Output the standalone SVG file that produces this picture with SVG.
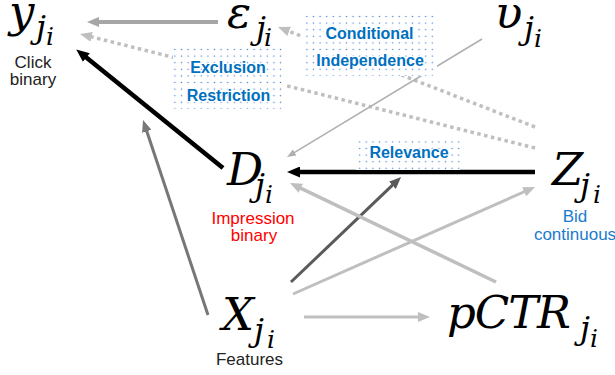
<svg xmlns="http://www.w3.org/2000/svg" width="615" height="375" viewBox="0 0 615 375">
<style>
.m{font-family:"DejaVu Serif",serif;font-style:italic;font-size:45px;fill:#000}
.s1{font-size:32px}
.s2{font-size:25px}
.lab{font-family:"Liberation Sans",Arial,sans-serif;font-size:17px;text-anchor:middle}
.box{font-family:"Liberation Sans",Arial,sans-serif;font-size:16px;font-weight:bold;fill:#0070c0;text-anchor:middle;stroke:#fff;stroke-width:2.5px;paint-order:stroke}
.c{fill:none}
</style>
<defs>
<pattern id="dots" width="6.6" height="6.6" patternUnits="userSpaceOnUse">
<rect width="6.6" height="6.6" fill="#fff"/>
<circle cx="3.3" cy="3.3" r="0.75" fill="#4f86d6"/>
</pattern>
<marker id="aG" markerUnits="userSpaceOnUse" markerWidth="12" markerHeight="10" refX="2" refY="5" orient="auto"><path d="M0,0L12,5L0,10z" fill="#a6a6a6"/></marker>
<marker id="aL" markerUnits="userSpaceOnUse" markerWidth="12" markerHeight="10" refX="2" refY="5" orient="auto"><path d="M0,0L12,5L0,10z" fill="#bfbfbf"/></marker>
<marker id="aB" markerUnits="userSpaceOnUse" markerWidth="13" markerHeight="11" refX="2" refY="5.5" orient="auto"><path d="M0,0L13,5.5L0,11z" fill="#000"/></marker>
<marker id="aM" markerUnits="userSpaceOnUse" markerWidth="12" markerHeight="10" refX="2" refY="5" orient="auto"><path d="M0,0L12,5L0,10z" fill="#777"/></marker>
<marker id="aD" markerUnits="userSpaceOnUse" markerWidth="12" markerHeight="10" refX="2" refY="5" orient="auto"><path d="M0,0L12,5L0,10z" fill="#5a5a5a"/></marker>
<marker id="aT" markerUnits="userSpaceOnUse" markerWidth="9" markerHeight="7" refX="2" refY="3.5" orient="auto"><path d="M0,0L9,3.5L0,7z" fill="#b0b0b0"/></marker>
</defs>
<rect width="615" height="375" fill="#fff"/>
<g id="connectors" class="c">
<line x1="218" y1="22" x2="97" y2="22" stroke="#a6a6a6" stroke-width="4" marker-end="url(#aG)"/>
<line x1="535" y1="127" x2="287.3" y2="30.6" stroke="#bfbfbf" stroke-width="3.5" stroke-dasharray="3.5 3.5" marker-end="url(#aL)"/>
<line x1="535" y1="148" x2="89.7" y2="36.4" stroke="#bfbfbf" stroke-width="3.5" stroke-dasharray="3.5 3.5" marker-end="url(#aL)"/>
<line x1="482" y1="39" x2="293" y2="153.4" stroke="#b0b0b0" stroke-width="1.6" marker-end="url(#aT)"/>
<line x1="535" y1="172" x2="298" y2="172" stroke="#000" stroke-width="4.5" marker-end="url(#aB)"/>
<line x1="223" y1="168" x2="84.8" y2="56.3" stroke="#000" stroke-width="4.5" marker-end="url(#aB)"/>
<line x1="208" y1="315" x2="146.2" y2="129.5" stroke="#777" stroke-width="3" marker-end="url(#aM)"/>
<line x1="291" y1="282" x2="393.8" y2="183.9" stroke="#5a5a5a" stroke-width="3" marker-end="url(#aD)"/>
<line x1="293" y1="294" x2="525.9" y2="191" stroke="#bfbfbf" stroke-width="3" marker-end="url(#aL)"/>
<line x1="496" y1="282" x2="299" y2="187.3" stroke="#bfbfbf" stroke-width="3.5" marker-end="url(#aL)"/>
<line x1="304" y1="317" x2="420" y2="317" stroke="#bfbfbf" stroke-width="3" marker-end="url(#aL)"/>
</g>
<g id="exclusion-restriction">
<rect x="173" y="47" width="112" height="62" fill="url(#dots)"/>
<text class="box" x="228" y="73">Exclusion</text>
<text class="box" x="228.5" y="100.5">Restriction</text>
</g>
<g id="conditional-independence">
<rect x="302" y="13" width="135" height="63" fill="url(#dots)"/>
<text class="box" x="369.5" y="39">Conditional</text>
<text class="box" x="370" y="66">Independence</text>
</g>
<g id="relevance">
<rect x="356" y="141" width="104" height="29" fill="url(#dots)"/>
<text class="box" x="409" y="158">Relevance</text>
</g>
<g id="node-y">
<text class="m"><tspan x="9" y="27">y</tspan><tspan class="s1" x="36" y="38">j</tspan><tspan class="s2" x="46" y="45">i</tspan></text>
<text class="lab" x="33" y="68" fill="#222">Click</text>
<text class="lab" x="33" y="85" fill="#222">binary</text>
</g>
<g id="node-epsilon">
<text class="m"><tspan x="227" y="28">ε</tspan><tspan class="s1" x="256" y="39">j</tspan><tspan class="s2" x="264" y="46">i</tspan></text>
</g>
<g id="node-upsilon">
<text class="m"><tspan x="495" y="28">υ</tspan><tspan class="s1" x="524" y="39">j</tspan><tspan class="s2" x="534" y="47">i</tspan></text>
</g>
<g id="node-D">
<text class="m"><tspan x="227" y="185">D</tspan><tspan class="s1" x="255" y="196">j</tspan><tspan class="s2" x="265" y="203">i</tspan></text>
<text class="lab" x="253" y="224" fill="#ff0000">Impression</text>
<text class="lab" x="254" y="241" fill="#ff0000">binary</text>
</g>
<g id="node-Z">
<text class="m"><tspan x="552" y="185">Z</tspan><tspan class="s1" x="580" y="196">j</tspan><tspan class="s2" x="593" y="203">i</tspan></text>
<text class="lab" x="575" y="222" fill="#1a7bcc">Bid</text>
<text class="lab" x="575" y="240" fill="#1a7bcc">continuous</text>
</g>
<g id="node-X">
<text class="m"><tspan x="222" y="330">X</tspan><tspan class="s1" x="254" y="341">j</tspan><tspan class="s2" x="267" y="348">i</tspan></text>
<text class="lab" x="249.5" y="365" fill="#222">Features</text>
</g>
<g id="node-pCTR">
<text class="m"><tspan x="447" y="328" textLength="124" lengthAdjust="spacing">pCTR</tspan><tspan class="s1" x="580" y="339">j</tspan><tspan class="s2" x="590" y="347">i</tspan></text>
</g>
</svg>
